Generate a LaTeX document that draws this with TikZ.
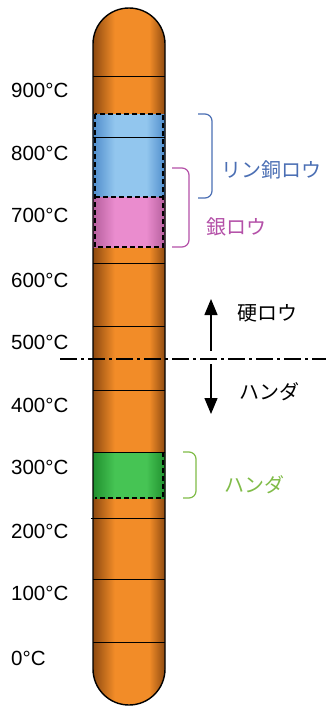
\documentclass[tikz,border=0pt]{standalone}
\usepackage{fontspec}
\setmainfont{Liberation Sans}
\newfontfamily\jp{Noto Sans CJK JP}
\usetikzlibrary{arrows.meta}
\definecolor{orL}{HTML}{F28C28}
\definecolor{orD}{HTML}{8E4A10}
\definecolor{blL}{HTML}{92C6EE}
\definecolor{blD}{HTML}{4F8CCB}
\definecolor{pkL}{HTML}{EA8CCE}
\definecolor{pkD}{HTML}{B45E9C}
\definecolor{gnL}{HTML}{46C454}
\definecolor{gnD}{HTML}{20902E}
\definecolor{txBlue}{HTML}{4B6FB4}
\definecolor{txPink}{HTML}{B450A8}
\definecolor{txGreen}{HTML}{80BC48}
\pgfdeclarehorizontalshading{shOr}{100bp}{color(0bp)=(orD); color(25bp)=(orD); color(40bp)=(orL); color(64bp)=(orL); color(75bp)=(orD); color(100bp)=(orD)}
\pgfdeclarehorizontalshading{shBl}{100bp}{color(0bp)=(blD); color(25bp)=(blD); color(40bp)=(blL); color(62bp)=(blL); color(75bp)=(blD); color(100bp)=(blD)}
\pgfdeclarehorizontalshading{shPk}{100bp}{color(0bp)=(pkD); color(25bp)=(pkD); color(40bp)=(pkL); color(62bp)=(pkL); color(75bp)=(pkD); color(100bp)=(pkD)}
\pgfdeclarehorizontalshading{shGn}{100bp}{color(0bp)=(gnD); color(25bp)=(gnD); color(40bp)=(gnL); color(62bp)=(gnL); color(75bp)=(gnD); color(100bp)=(gnD)}
\tikzset{
  templabel/.style={anchor=west, font=\fontsize{20.5}{21}\selectfont, inner sep=0pt},
  jplabel/.style={anchor=west, font=\jp\fontsize{20}{21}\selectfont, inner sep=0pt},
  scaleline/.style={line width=1pt},
  bandedge/.style={line width=1.4pt, dash pattern=on 5pt off 3pt},
  bracket/.style={line width=1.2pt, rounded corners=7pt},
  bigarrow/.style={line width=1.4pt, -{Triangle[width=13pt,length=16pt]}},
  divider/.style={line width=1.4pt, dash pattern=on 17pt off 4pt on 3pt off 4pt}
}
\begin{document}
\begin{tikzpicture}[x=1pt,y=-1pt]
\useasboundingbox (0,0) rectangle (326,707);
\fill[white] (0,0) rectangle (326,707);
% tube
\def\tube{(93,44) arc[start angle=180,end angle=360,radius=36] -- (165,669) arc[start angle=0,end angle=180,radius=36] -- cycle}
\shade[shading=shOr] \tube;
\begin{scope}
\clip \tube;
\shade[shading=shBl] (93,114) rectangle (165,197);
\shade[shading=shPk] (93,197) rectangle (165,247);
\shade[shading=shGn] (93,452) rectangle (165,498);
\end{scope}
% scale lines
\foreach \yy in {76,137,263,326,390,452,579,642}
  \draw[scaleline] (93,\yy) -- (165,\yy);
\draw[scaleline] (91,518) -- (165,518);
% dashed band edges
\draw[bandedge] (95,114) rectangle (163,247);
\draw[bandedge] (95,197) -- (163,197);
\draw[bandedge] (163,452) -- (163,498) -- (95,498);
% outline
\draw[line width=1.4pt] \tube;
% temperature labels
\node[templabel] (t900) at (11,90) {900°C};
\node[templabel] (t800) at (11,153) {800°C};
\node[templabel] (t700) at (11,215) {700°C};
\node[templabel] (t600) at (11,280) {600°C};
\node[templabel] (t500) at (11,342) {500°C};
\node[templabel] (t400) at (11,405) {400°C};
\node[templabel] (t300) at (11,467) {300°C};
\node[templabel] (t200) at (11,531) {200°C};
\node[templabel] (t100) at (11,593) {100°C};
\node[templabel] (t0) at (11,658) {0°C};
% brackets
\draw[bracket, txBlue] (198,114) -- (212,114) -- (212,198) -- (198,198);
\draw[bracket, txPink] (172,168) -- (189,168) -- (189,247) -- (172,247);
\draw[bracket, txGreen] (183,452) -- (196,452) -- (196,498) -- (183,498);
\node[jplabel, text=txBlue] (rin) at (221,170) {リン銅ロウ};
\node[jplabel, text=txPink] (gin) at (206,227) {銀ロウ};
\node[jplabel, text=txGreen] (handag) at (224,485) {ハンダ};
% divider and arrows
\coordinate (dl) at (60,359);
\coordinate (dr) at (326,359);
\draw[divider] (dl) -- (dr);
\coordinate (au0) at (211,351);
\coordinate (au1) at (211,299);
\coordinate (ad0) at (211,364);
\coordinate (ad1) at (211,414);
\draw[bigarrow] (au0) -- (au1);
\draw[bigarrow] (ad0) -- (ad1);
\node[jplabel] (kou) at (237,313) {硬ロウ};
\node[jplabel] (handa) at (239,392) {ハンダ};
\end{tikzpicture}
\end{document}
